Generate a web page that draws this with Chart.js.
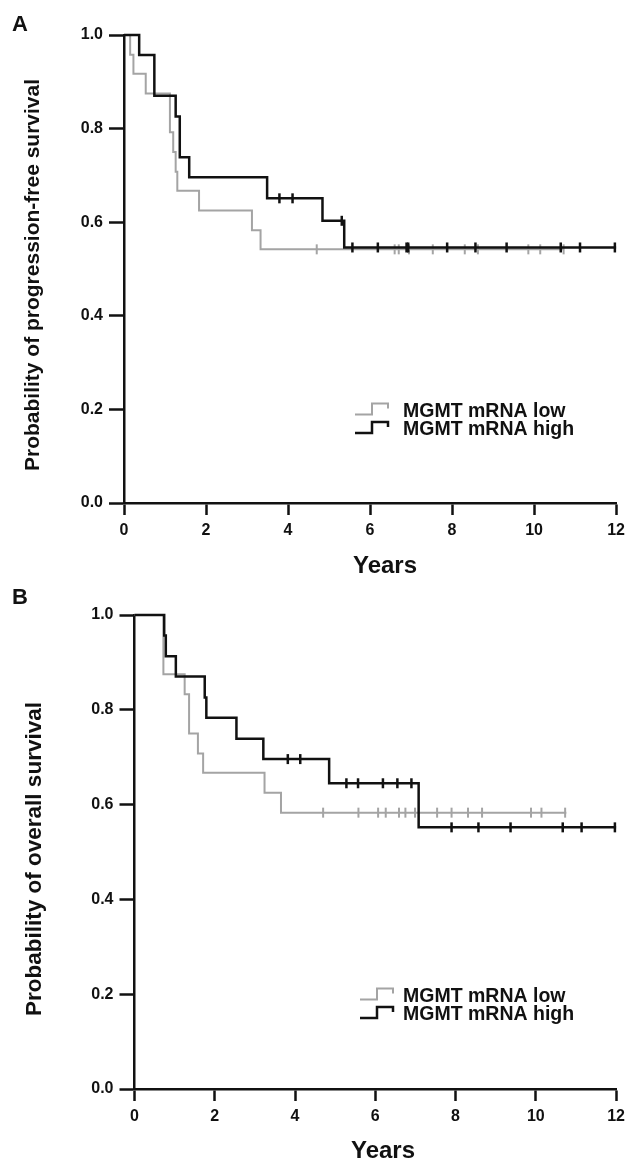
<!DOCTYPE html>
<html>
<head>
<meta charset="utf-8">
<script src="https://cdn.jsdelivr.net/npm/chart.js@4.4.1/dist/chart.umd.min.js"></script>
<style>
  html, body { margin: 0; padding: 0; background: #fff; }
  .panel { position: relative; width: 631px; height: 582px; }
  canvas { display: block; }
</style>
</head>
<body>
<div class="panel"><canvas id="chartPFS" width="631" height="582"></canvas></div>
<div class="panel"><canvas id="chartOS" width="631" height="582"></canvas></div>
<script>
// groups and axis ticks
const groups = ['MGMT mRNA low', 'MGMT mRNA high'];
const xTicks = [0, 2, 4, 6, 8, 10, 12];
const yTicks = [0, 0.2, 0.4, 0.6, 0.8, 1.0];

const pfsHighTimes = [0, 0.37, 0.74, 1.26, 1.36, 1.59, 3.49, 4.84, 5.37, 12];
const pfsHighSurv = [1, 0.957, 0.870, 0.826, 0.739, 0.696, 0.651, 0.603, 0.546, 0.546];
const pfsHighCensor = [3.79, 4.11, 5.31, 5.57, 6.19, 6.89, 6.93, 7.88, 8.57, 9.33, 10.65, 11.12, 11.97];
const pfsLowTimes = [0, 0.15, 0.23, 0.53, 1.12, 1.20, 1.26, 1.30, 1.83, 3.12, 3.33, 10.72];
const pfsLowSurv = [1, 0.958, 0.917, 0.875, 0.792, 0.750, 0.708, 0.667, 0.625, 0.583, 0.542, 0.542];
const pfsLowCensor = [4.70, 6.60, 6.70, 6.95, 7.53, 8.31, 8.63, 9.86, 10.15, 10.72];

// B: overall survival
const osHighTimes = [0, 0.74, 0.78, 1.03, 1.75, 1.79, 2.54, 3.21, 4.85, 7.08, 12];
const osHighSurv = [1, 0.957, 0.913, 0.870, 0.826, 0.783, 0.739, 0.696, 0.645, 0.552, 0.552];
const osHighCensor = [3.82, 4.13, 5.28, 5.57, 6.19, 6.55, 6.90, 7.90, 8.57, 9.37, 10.67, 11.14, 11.97];
const osLowTimes = [0, 0.72, 1.25, 1.36, 1.58, 1.71, 3.24, 3.65, 10.76];
const osLowSurv = [1, 0.875, 0.833, 0.750, 0.708, 0.667, 0.625, 0.583, 0.583];
const osLowCensor = [4.70, 5.58, 6.07, 6.26, 6.59, 6.75, 6.99, 7.54, 7.90, 8.31, 8.66, 9.88, 10.14, 10.73];

const FONT = '"Liberation Sans", Arial, sans-serif';
const BLACK = '#111111';
const GRAY = '#a4a4a4';

Chart.defaults.font.family = FONT;
Chart.defaults.color = BLACK;

function curve(times, surv) {
  return times.map((t, i) => ({ x: t, y: surv[i] }));
}

// survival level of the step curve at time t
function levelAt(times, surv, t) {
  let s = surv[0];
  for (let i = 0; i < times.length; i++) {
    if (times[i] <= t) s = surv[i];
  }
  return s;
}

function censorPoints(times, surv, cens) {
  return cens.map(t => ({ x: t, y: levelAt(times, surv, t) }));
}

// letter, axis titles and the step-style legend
const panelText = {
  id: 'panelText',
  afterDraw(chart, args, o) {
    const ctx = chart.ctx;
    ctx.save();
    ctx.fillStyle = BLACK;
    ctx.textBaseline = 'middle';
    ctx.textAlign = 'left';
    ctx.font = 'bold 22px ' + FONT;
    ctx.fillText(o.letter, o.letterX, o.letterY);

    ctx.textAlign = 'center';
    ctx.font = 'bold 24px ' + FONT;
    ctx.fillText('Years', o.yearsX, o.yearsY);

    ctx.save();
    ctx.translate(o.yTitleX, o.yTitleY);
    ctx.rotate(-Math.PI / 2);
    ctx.font = 'bold ' + o.yTitleSize + 'px ' + FONT;
    ctx.fillText(o.yTitle, 0, 0);
    ctx.restore();

    ctx.textAlign = 'left';
    ctx.font = 'bold 19.5px ' + FONT;
    const colors = [GRAY, BLACK];
    const widths = [2, 2.5];
    groups.forEach((g, i) => {
      const y = o.legendY + i * o.legendGap;
      const sx = o.symbolX;
      ctx.strokeStyle = colors[i];
      ctx.lineWidth = widths[i];
      ctx.beginPath();
      ctx.moveTo(sx, y + 3);
      ctx.lineTo(sx + 17, y + 3);
      ctx.lineTo(sx + 17, y - 8);
      ctx.lineTo(sx + 33, y - 8);
      ctx.lineTo(sx + 33, y - 3);
      ctx.stroke();
      ctx.fillText(g, o.textX, y);
    });
    ctx.restore();
  }
};

function makeChart(id, p) {
  const ctx = document.getElementById(id).getContext('2d');
  return new Chart(ctx, {
    type: 'line',
    data: {
      datasets: [
        { label: groups[1], data: curve(p.highT, p.highS), borderColor: BLACK, borderWidth: 2.5,
          stepped: 'before', pointRadius: 0, fill: false, clip: false },
        { label: groups[1] + ' censored', data: censorPoints(p.highT, p.highS, p.highC), showLine: false,
          pointStyle: 'line', rotation: 90, pointRadius: 5, pointHoverRadius: 5,
          borderColor: BLACK, pointBorderWidth: 2.5, clip: false },
        { label: groups[0], data: curve(p.lowT, p.lowS), borderColor: GRAY, borderWidth: 2,
          stepped: 'before', pointRadius: 0, fill: false, clip: false },
        { label: groups[0] + ' censored', data: censorPoints(p.lowT, p.lowS, p.lowC), showLine: false,
          pointStyle: 'line', rotation: 90, pointRadius: 5, pointHoverRadius: 5,
          borderColor: GRAY, pointBorderWidth: 2, clip: false }
      ]
    },
    options: {
      responsive: false,
      animation: false,
      devicePixelRatio: 1,
      events: [],
      layout: { padding: { left: 0, top: p.top, right: 13, bottom: 0 } },
      plugins: {
        legend: { display: false },
        tooltip: { enabled: false },
        panelText: p.text
      },
      scales: {
        x: {
          type: 'linear', min: 0, max: 12,
          afterBuildTicks: s => { s.ticks = xTicks.map(v => ({ value: v })); },
          afterFit: s => { s.height = p.xHeight; },
          border: { display: true, color: BLACK, width: 2.5 },
          grid: { drawOnChartArea: false, drawTicks: true, tickLength: 12, tickWidth: 2.5, tickColor: BLACK },
          ticks: { padding: 6, font: { size: 16, weight: 'bold' }, color: BLACK, maxRotation: 0 }
        },
        y: {
          type: 'linear', min: 0, max: 1,
          afterBuildTicks: s => { s.ticks = yTicks.map(v => ({ value: v })); },
          afterFit: s => { s.width = p.yWidth; },
          border: { display: true, color: BLACK, width: 2.5 },
          grid: { drawOnChartArea: false, drawTicks: true, tickLength: 15, tickWidth: 2.5, tickColor: BLACK },
          ticks: { padding: 6, font: { size: 16, weight: 'bold' }, color: BLACK,
                   callback: v => v.toFixed(1) }
        }
      }
    },
    plugins: [panelText]
  });
}

const chartPFS = makeChart('chartPFS', {
  highT: pfsHighTimes, highS: pfsHighSurv, highC: pfsHighCensor,
  lowT: pfsLowTimes, lowS: pfsLowSurv, lowC: pfsLowCensor,
  top: 35, xHeight: 79, yWidth: 124,
  text: { letter: 'A', letterX: 12, letterY: 25, yearsX: 385, yearsY: 566,
          yTitle: 'Probability of progression-free survival', yTitleX: 33, yTitleY: 275, yTitleSize: 21,
          symbolX: 355, textX: 403, legendY: 411.5, legendGap: 18.5 }
});

const chartOS = makeChart('chartOS', {
  highT: osHighTimes, highS: osHighSurv, highC: osHighCensor,
  lowT: osLowTimes, lowS: osLowSurv, lowC: osLowCensor,
  top: 33, xHeight: 75, yWidth: 134.5,
  text: { letter: 'B', letterX: 12, letterY: 16, yearsX: 383, yearsY: 569,
          yTitle: 'Probability of overall survival', yTitleX: 35, yTitleY: 277, yTitleSize: 22.5,
          symbolX: 360, textX: 403, legendY: 414.5, legendGap: 18.5 }
});
</script>
</body>
</html>
